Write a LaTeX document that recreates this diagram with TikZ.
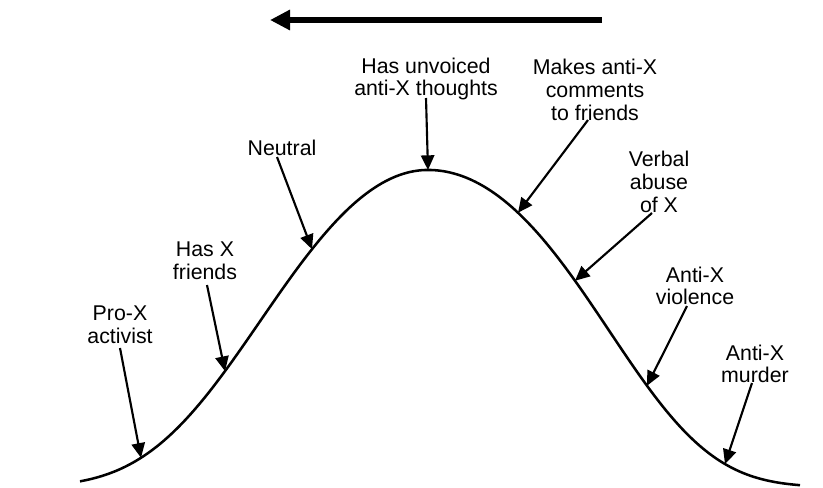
\documentclass[tikz,border=0pt]{standalone}
\usepackage{fontspec}
\setmainfont{Liberation Sans}
\usetikzlibrary{arrows.meta,calc}
\begin{document}
\begin{tikzpicture}[x=0.75pt,y=-0.75pt,
  declare function={
    dd(\t)=((\t-428)/100)*((\t-428)/100);
    fl(\t)=487-317*exp(-(0.199*dd(\t)+0.01097*dd(\t)*dd(\t)));
    fr(\t)=487-317*exp(-(0.167*dd(\t)+0.0148*dd(\t)*dd(\t)));
  },
  lab/.style={align=center,inner sep=0pt,font=\fontsize{16}{17}\selectfont},
  pt/.style={line width=1.6pt,-{Triangle[length=11pt,width=10pt]}},
  bigarrow/.style={line width=3.8pt,-{Triangle[length=15pt,width=14.5pt]}},
  curve/.style={line width=1.9pt}]
\useasboundingbox (0,0) rectangle (823,487);
% direction arrow
\coordinate (ta) at (602,20);
\coordinate (tb) at (270,20);
\draw[bigarrow] (ta) -- (tb);
% bell curve
\draw[curve,line join=round] plot[domain=80:428,samples=120] (\x,{fl(\x)})
  -- plot[domain=428:800,samples=120] (\x,{fr(\x)});
% points on the curve
\coordinate (c1) at (141,{fl(141)});
\coordinate (c2) at (225,{fl(225)});
\coordinate (c3) at (312,{fl(312)});
\coordinate (c4) at (428,170);
\coordinate (c5) at (518,{fr(518)});
\coordinate (c6) at (575,{fr(575)});
\coordinate (c7) at (647,{fr(647)});
\coordinate (c8) at (725,{fr(725)});
% labels
\node[lab] (l1) at (120,325) {Pro-X\\activist};
\node[lab] (l2) at (205,261) {Has X\\friends};
\node[lab] (l3) at (282,148) {Neutral};
\node[lab] (l4) at (426,79) {Has unvoiced\\anti-X thoughts};
\node[lab] (l5) at (595,90) {Makes anti-X\\comments\\to friends};
\node[lab] (l6) at (659,182) {Verbal\\abuse\\of X};
\node[lab] (l7) at (695,286) {Anti-X\\violence};
\node[lab] (l8) at (755,364) {Anti-X\\murder};
% pointers
\draw[pt] ([shift={(0,23)}]l1.center) -- (c1);
\draw[pt] ([shift={(2,24)}]l2.center) -- (c2);
\draw[pt] ([shift={(-5,9)}]l3.center) -- (c3);
\draw[pt] ([shift={(0,19)}]l4.center) -- (c4);
\draw[pt] ([shift={(-7,30)}]l5.center) -- (c5);
\draw[pt] ([shift={(-7,31)}]l6.center) -- (c6);
\draw[pt] ([shift={(-8,20)}]l7.center) -- (c7);
\draw[pt] ([shift={(-3,19)}]l8.center) -- (c8);
\end{tikzpicture}
\end{document}
